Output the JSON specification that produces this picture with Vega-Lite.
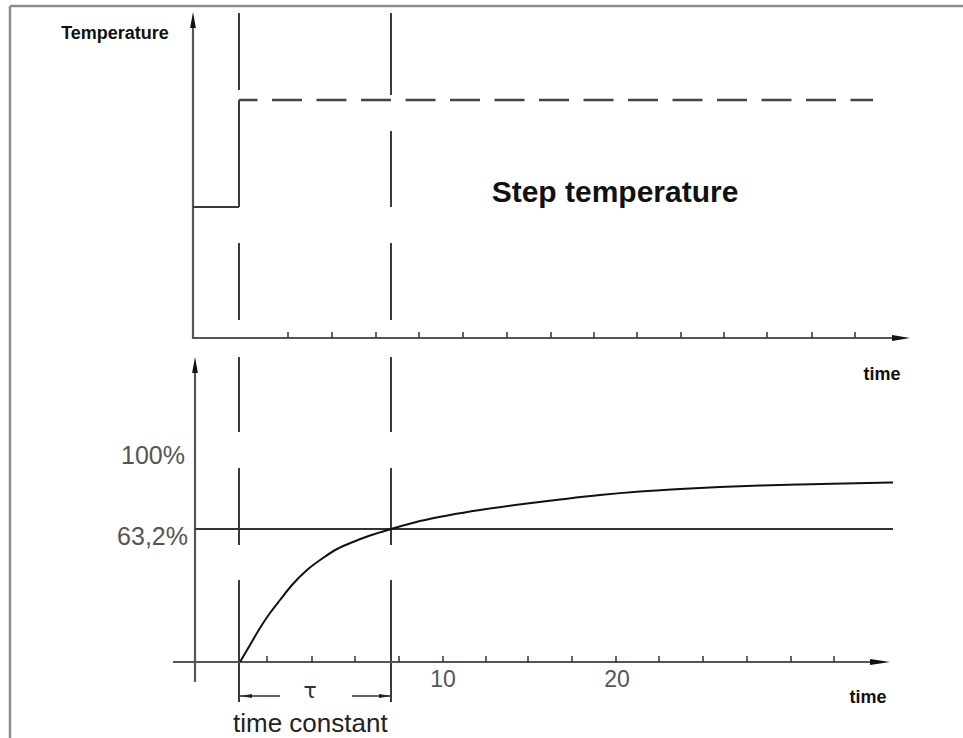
{
  "$schema": "https://vega.github.io/schema/vega-lite/v6.json",
  "width": 963,
  "height": 738,
  "padding": 0,
  "autosize": {"type": "none"},
  "background": "white",
  "config": {"view": {"stroke": null}},
  "datasets": {
    "frame": [
      {"x": 10, "y": 6, "x2": 10, "y2": 738},
      {"x": 10, "y": 6, "x2": 963, "y2": 6}
    ],
    "axes": [
      {"x": 193, "y": 339, "x2": 193, "y2": 22},
      {"x": 193, "y": 338, "x2": 895, "y2": 338},
      {"x": 195, "y": 682, "x2": 195, "y2": 367},
      {"x": 173, "y": 662, "x2": 875, "y2": 662}
    ],
    "topTicks": [
      {"x": 288}, {"x": 332}, {"x": 376}, {"x": 419}, {"x": 463}, {"x": 507}, {"x": 551},
      {"x": 594}, {"x": 637}, {"x": 681}, {"x": 724}, {"x": 767}, {"x": 812}, {"x": 855}
    ],
    "bottomTicks": [
      {"x": 267}, {"x": 312}, {"x": 355}, {"x": 399}, {"x": 443}, {"x": 486}, {"x": 528},
      {"x": 572}, {"x": 616}, {"x": 659}, {"x": 703}, {"x": 747}, {"x": 791}, {"x": 834}
    ],
    "vdash": [
      {"x": 239, "y": 13, "y2": 90}, {"x": 239, "y": 131, "y2": 207}, {"x": 239, "y": 243, "y2": 320},
      {"x": 239, "y": 357, "y2": 432}, {"x": 239, "y": 468, "y2": 545}, {"x": 239, "y": 580, "y2": 702},
      {"x": 391, "y": 13, "y2": 95}, {"x": 391, "y": 131, "y2": 207}, {"x": 391, "y": 243, "y2": 320},
      {"x": 391, "y": 357, "y2": 432}, {"x": 391, "y": 468, "y2": 545}, {"x": 391, "y": 580, "y2": 702}
    ],
    "step": [
      {"x": 193, "y": 207, "x2": 239, "y2": 207},
      {"x": 239, "y": 207, "x2": 239, "y2": 100}
    ],
    "stepHigh": [{"x": 239, "y": 100, "x2": 873, "y2": 100}],
    "level": [{"x": 195, "y": 529, "x2": 893, "y2": 529}],
    "tauLines": [
      {"x": 240, "y": 696, "x2": 280, "y2": 696},
      {"x": 352, "y": 696, "x2": 391, "y2": 696}
    ],
    "curve": [
      {"x": 240, "y": 662}, {"x": 250, "y": 645}, {"x": 260, "y": 628}, {"x": 270, "y": 613},
      {"x": 280, "y": 600}, {"x": 292, "y": 585}, {"x": 307, "y": 570}, {"x": 323, "y": 558},
      {"x": 337, "y": 549}, {"x": 353, "y": 542}, {"x": 370, "y": 535.5}, {"x": 391, "y": 529},
      {"x": 420, "y": 521}, {"x": 450, "y": 515}, {"x": 480, "y": 510}, {"x": 523, "y": 504},
      {"x": 560, "y": 499.5}, {"x": 600, "y": 495}, {"x": 640, "y": 491.5}, {"x": 680, "y": 489},
      {"x": 720, "y": 487}, {"x": 760, "y": 485.5}, {"x": 800, "y": 484.5}, {"x": 845, "y": 483.5},
      {"x": 893, "y": 482.5}
    ],
    "upArrows": [{"x": 193, "y": 20}, {"x": 195, "y": 365}],
    "rightArrowTop": [{"x": 901, "y": 338}],
    "rightArrowBottom": [{"x": 880, "y": 662}],
    "tauLeft": [{"x": 246, "y": 696}],
    "tauRight": [{"x": 385, "y": 696}],
    "tTemp": [{"x": 115, "y": 39, "label": "Temperature"}],
    "tStep": [{"x": 615, "y": 202, "label": "Step temperature"}],
    "tTime": [{"x": 882, "y": 380, "label": "time"}, {"x": 868, "y": 703, "label": "time"}],
    "tPct": [{"x": 185, "y": 464, "label": "100%"}, {"x": 188, "y": 545, "label": "63,2%"}],
    "tNum": [{"x": 443, "y": 687, "label": "10"}, {"x": 617, "y": 687, "label": "20"}],
    "tTau": [{"x": 310, "y": 698, "label": "τ"}],
    "tConst": [{"x": 233, "y": 732, "label": "time constant"}]
  },
  "encoding": {
    "x": {"field": "x", "type": "quantitative", "scale": {"domain": [0, 963], "nice": false, "zero": false}, "axis": null},
    "y": {"field": "y", "type": "quantitative", "scale": {"domain": [0, 738], "nice": false, "zero": false, "reverse": true}, "axis": null}
  },
  "layer": [
    {"data": {"name": "frame"}, "mark": {"type": "rule", "color": "#8c8c8c", "strokeWidth": 2.5},
     "encoding": {"x2": {"field": "x2"}, "y2": {"field": "y2"}}},
    {"data": {"name": "vdash"}, "mark": {"type": "rule", "color": "#3a3a3a", "strokeWidth": 2},
     "encoding": {"y2": {"field": "y2"}}},
    {"data": {"name": "axes"}, "mark": {"type": "rule", "color": "#555555", "strokeWidth": 2.2},
     "encoding": {"x2": {"field": "x2"}, "y2": {"field": "y2"}}},
    {"data": {"name": "topTicks"}, "mark": {"type": "rule", "color": "#333333", "strokeWidth": 1.5, "y": 332, "y2": 338},
     "encoding": {"y": null}},
    {"data": {"name": "bottomTicks"}, "mark": {"type": "rule", "color": "#333333", "strokeWidth": 1.5, "y": 656, "y2": 662},
     "encoding": {"y": null}},
    {"data": {"name": "step"}, "mark": {"type": "rule", "color": "#3a3a3a", "strokeWidth": 2},
     "encoding": {"x2": {"field": "x2"}, "y2": {"field": "y2"}}},
    {"data": {"name": "stepHigh"}, "mark": {"type": "rule", "color": "#444444", "strokeWidth": 2.5, "strokeDash": [30, 14.5], "strokeDashOffset": 11.5},
     "encoding": {"x2": {"field": "x2"}, "y2": {"field": "y2"}}},
    {"data": {"name": "level"}, "mark": {"type": "rule", "color": "#333333", "strokeWidth": 1.8},
     "encoding": {"x2": {"field": "x2"}, "y2": {"field": "y2"}}},
    {"data": {"name": "tauLines"}, "mark": {"type": "rule", "color": "#333333", "strokeWidth": 1.6},
     "encoding": {"x2": {"field": "x2"}, "y2": {"field": "y2"}}},
    {"data": {"name": "curve"}, "mark": {"type": "line", "color": "#111111", "strokeWidth": 2, "interpolate": "monotone"},
     "encoding": {}},
    {"data": {"name": "upArrows"}, "mark": {"type": "point", "shape": "M0,-1L-0.36,1L0.36,1Z", "size": 256, "filled": true, "opacity": 1, "color": "#111111", "strokeWidth": 0},
     "encoding": {}},
    {"data": {"name": "rightArrowTop"}, "mark": {"type": "point", "shape": "M1,0L-1,-0.34L-1,0.34Z", "size": 324, "filled": true, "opacity": 1, "color": "#111111", "strokeWidth": 0},
     "encoding": {}},
    {"data": {"name": "rightArrowBottom"}, "mark": {"type": "point", "shape": "M1,0L-1,-0.3L-1,0.3Z", "size": 400, "filled": true, "opacity": 1, "color": "#111111", "strokeWidth": 0},
     "encoding": {}},
    {"data": {"name": "tauLeft"}, "mark": {"type": "point", "shape": "M-1,0L1,-0.35L1,0.35Z", "size": 144, "filled": true, "opacity": 1, "color": "#222222", "strokeWidth": 0},
     "encoding": {}},
    {"data": {"name": "tauRight"}, "mark": {"type": "point", "shape": "M1,0L-1,-0.35L-1,0.35Z", "size": 144, "filled": true, "opacity": 1, "color": "#222222", "strokeWidth": 0},
     "encoding": {}},
    {"data": {"name": "tTemp"}, "mark": {"type": "text", "font": "Liberation Sans", "fontWeight": "bold", "fontSize": 18, "align": "center", "baseline": "alphabetic", "color": "#111111"},
     "encoding": {"text": {"field": "label"}}},
    {"data": {"name": "tStep"}, "mark": {"type": "text", "font": "Liberation Sans", "fontWeight": "bold", "fontSize": 30, "align": "center", "baseline": "alphabetic", "color": "#111111"},
     "encoding": {"text": {"field": "label"}}},
    {"data": {"name": "tTime"}, "mark": {"type": "text", "font": "Liberation Sans", "fontWeight": "bold", "fontSize": 18, "align": "center", "baseline": "alphabetic", "color": "#111111"},
     "encoding": {"text": {"field": "label"}}},
    {"data": {"name": "tPct"}, "mark": {"type": "text", "font": "Liberation Sans", "fontSize": 25, "align": "right", "baseline": "alphabetic", "color": "#555555"},
     "encoding": {"text": {"field": "label"}}},
    {"data": {"name": "tNum"}, "mark": {"type": "text", "font": "Liberation Sans", "fontSize": 23, "align": "center", "baseline": "alphabetic", "color": "#555555"},
     "encoding": {"text": {"field": "label"}}},
    {"data": {"name": "tTau"}, "mark": {"type": "text", "font": "DejaVu Sans", "fontSize": 22, "align": "center", "baseline": "alphabetic", "color": "#333333"},
     "encoding": {"text": {"field": "label"}}},
    {"data": {"name": "tConst"}, "mark": {"type": "text", "font": "Liberation Sans", "fontSize": 26, "align": "left", "baseline": "alphabetic", "color": "#222222"},
     "encoding": {"text": {"field": "label"}}}
  ]
}
